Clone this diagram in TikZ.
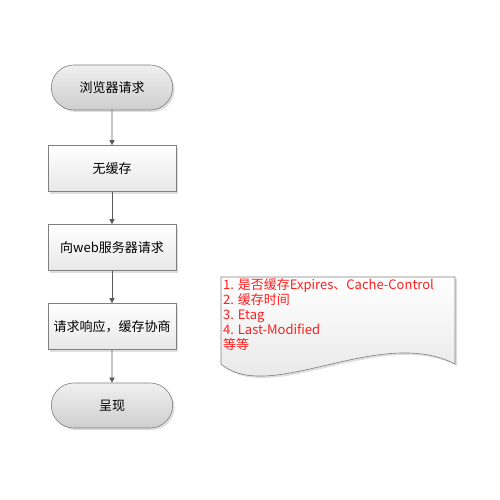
\documentclass[tikz,border=0pt]{standalone}
\usepackage{fontspec}
\setmainfont{Noto Sans CJK SC}
\usetikzlibrary{shapes.misc,arrows.meta,shadows}
\definecolor{edgecol}{HTML}{7F7F7F}
\definecolor{linkcol}{HTML}{595959}
\definecolor{notecol}{HTML}{FF1F1F}
\tikzset{
  flowterm/.style={rounded rectangle,draw=edgecol,line width=0.6pt,
    top color=gray!12,bottom color=gray!38,minimum width=128pt,minimum height=45pt,
    drop shadow={opacity=0.25,shadow xshift=2pt,shadow yshift=-2pt},
    font=\fontsize{13}{15}\selectfont},
  flowstep/.style={rectangle,draw=edgecol,line width=0.6pt,
    top color=white,bottom color=gray!18,minimum width=128pt,minimum height=46pt,
    drop shadow={opacity=0.25,shadow xshift=2pt,shadow yshift=-2pt},
    font=\fontsize{13}{15}\selectfont},
  flowlink/.style={draw=linkcol,line width=0.6pt,-{Triangle[length=5pt,width=5pt]}}
}
\begin{document}
\begin{tikzpicture}[x=1pt,y=-1pt]
  \useasboundingbox (0,0) rectangle (500,500);
  % main flow
  \node [flowterm] (request) at (112,87.5) {浏览器请求};
  \node [flowstep] (nocache) at (112,168.5) {无缓存};
  \node [flowstep] (server) at (112,247.5) {向web服务器请求};
  \node [flowstep] (respond) at (112,326.5) {请求响应，缓存协商};
  \node [flowterm] (render) at (112,405.5) {呈现};
  \draw [flowlink] (request) -- (nocache);
  \draw [flowlink] (nocache) -- (server);
  \draw [flowlink] (server) -- (respond);
  \draw [flowlink] (respond) -- (render);
  % note sheet
  \fill [gray,opacity=0.25] (223,279) -- (457,279) -- (457,366)
    .. controls (382,327) and (272,407) .. (223,366) -- cycle;
  \shade [top color=white,bottom color=gray!22,draw=edgecol,line width=0.6pt]
    (221,277) -- (455,277) -- (455,364)
    .. controls (380,325) and (270,405) .. (221,364) -- cycle;
  \node [anchor=north west,align=left,inner sep=0pt,text=notecol,
    font=\fontsize{13}{15.2}\selectfont] (notes) at (223,278)
    {1. 是否缓存Expires、Cache-Control\\2. 缓存时间\\3. Etag\\4. Last-Modified\\等等};
\end{tikzpicture}
\end{document}
